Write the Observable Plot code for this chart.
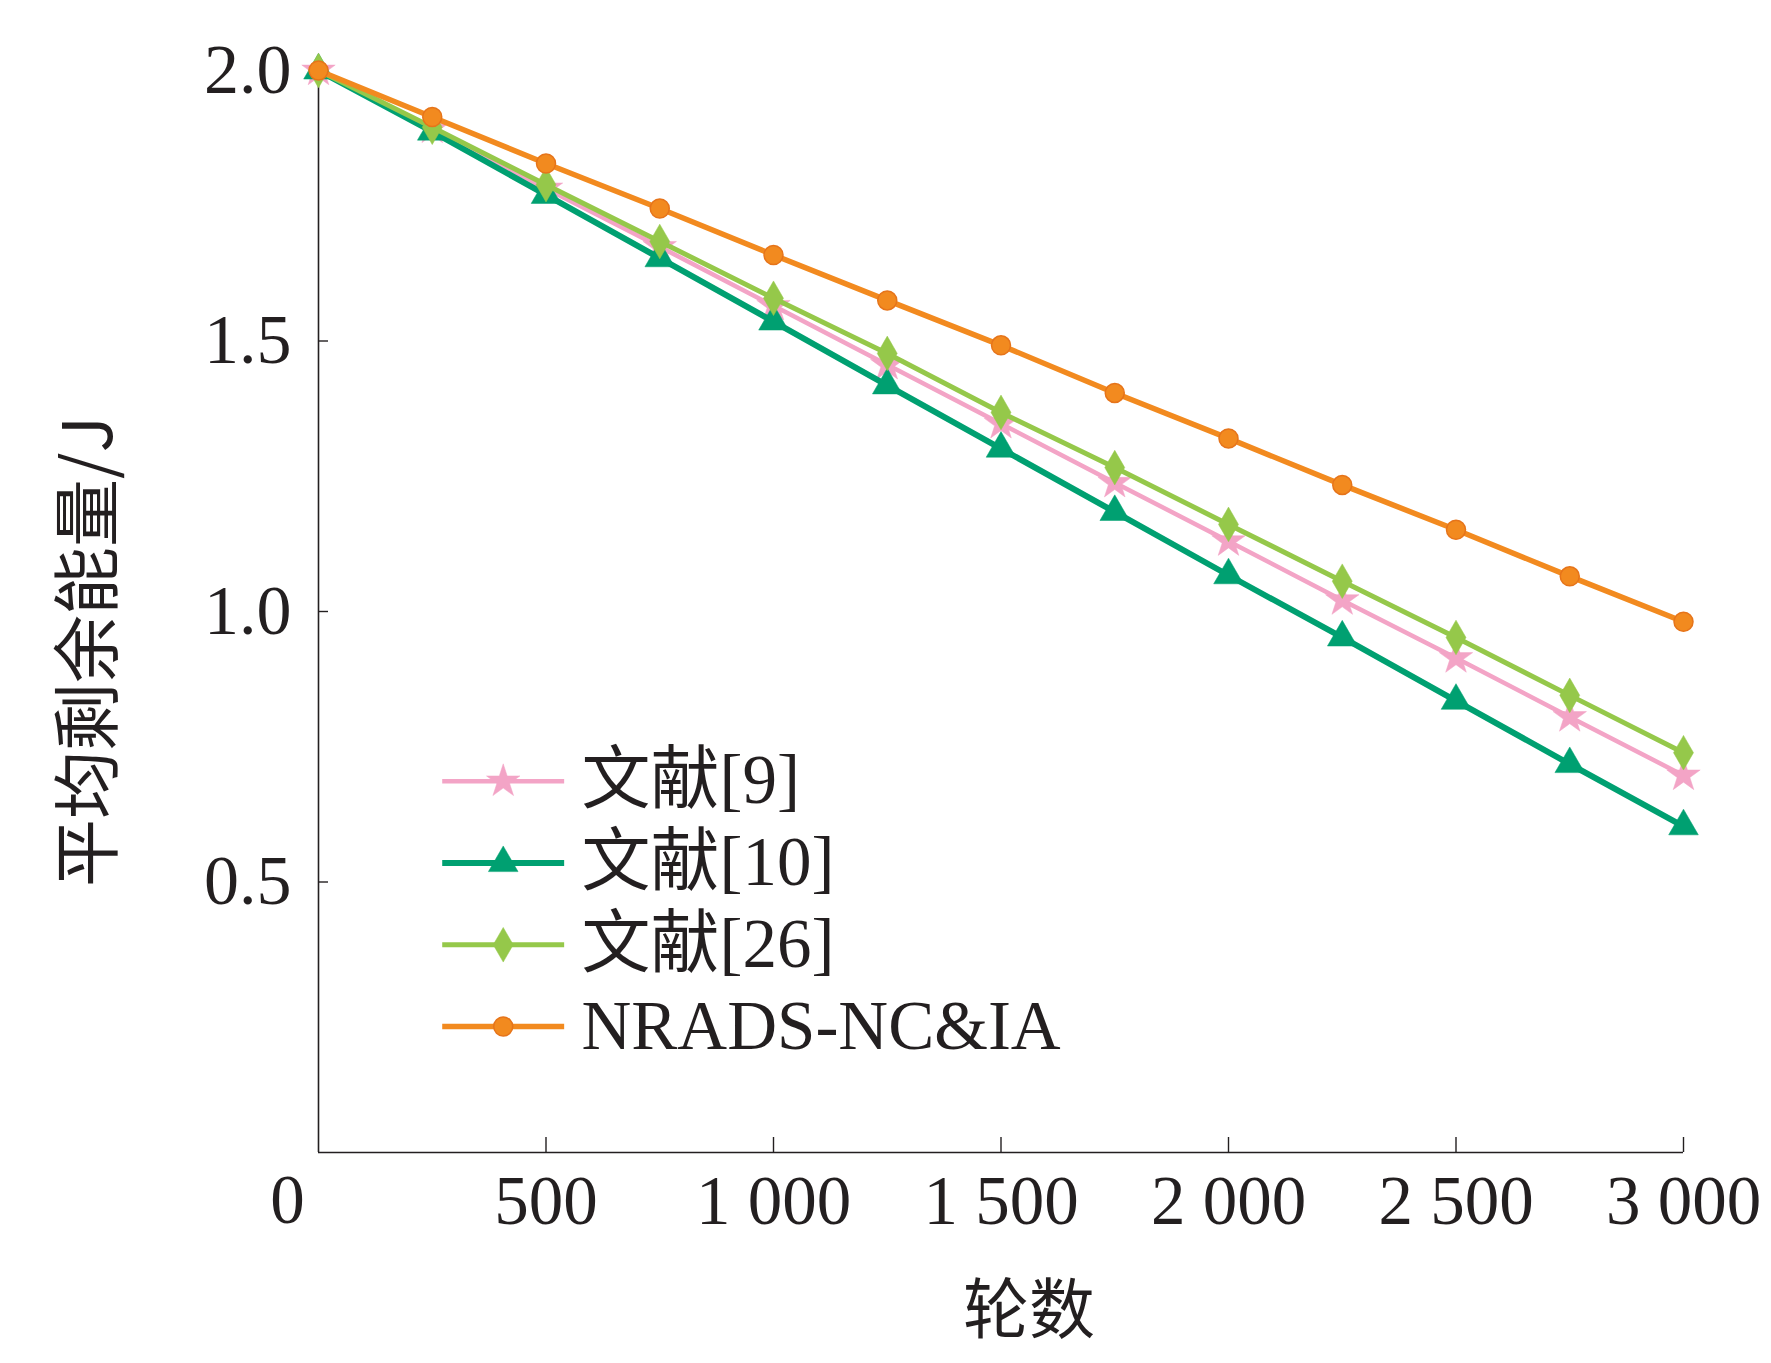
<!DOCTYPE html>
<html><head><meta charset="utf-8">
<script src="https://cdn.jsdelivr.net/npm/d3@7"></script>
<script src="https://cdn.jsdelivr.net/npm/@observablehq/plot@0.6"></script>
<style>
html,body{margin:0;padding:0;background:#fff;}
#chart svg{display:block;}
</style></head><body><div id="chart"></div>
<script>
const rounds = [0,250,500,750,1000,1250,1500,1750,2000,2250,2500,2750,3000];
const ref9  = [2.000,1.893,1.782,1.674,1.565,1.456,1.347,1.238,1.130,1.021,0.914,0.805,0.697];
const ref10 = [2.000,1.887,1.770,1.653,1.536,1.418,1.301,1.184,1.067,0.952,0.835,0.718,0.603];
const ref26 = [2.000,1.895,1.789,1.684,1.579,1.477,1.368,1.266,1.161,1.056,0.952,0.845,0.739];
const nrads = [2.000,1.914,1.828,1.745,1.659,1.575,1.492,1.404,1.320,1.234,1.151,1.065,0.981];

const seriesNames = ["文献[9]","文献[10]","文献[26]","NRADS-NC&IA"];
const seriesValues = [ref9, ref10, ref26, nrads];
const seriesColors = ["#f3a4c6","#00a071","#95c84a","#f28a1f"];
const seriesSymbols = ["star","triangle","diamond","circle"];
const xTicks = [500,1000,1500,2000,2500,3000];
const yTicks = [0.5,1.0,1.5,2.0];
const xLabel = "轮数";
const yLabel = "平均剩余能量/J";

const lineWidths = [4.5,6,5,5.5];
const dotR = [10.5,11,10.5,9.5];
const ink = "#231f20";
const serif = "'Liberation Serif','Noto Sans CJK SC',serif";
const cjk = "'Noto Sans CJK SC','Liberation Serif',sans-serif";

const table = seriesNames.flatMap((name,s) => rounds.map((r,i) => ({series:s, name, x:r, y:seriesValues[s][i]})));

// legend rows (data-space placement inside the frame)
const legend = seriesNames.map((name,i) => ({i, name, y: 0.686 - i*0.151}));

const fmt = d => d3.format(",")(d).replace(/,/g," ");

const marks = [];
// axis lines
marks.push(Plot.ruleY([0], {x1:0, x2:3000, stroke:ink, strokeWidth:1.6}));
marks.push(Plot.ruleX([0], {y1:0, y2:2, stroke:ink, strokeWidth:1.6}));
// inward ticks
marks.push(Plot.ruleX(xTicks, {x:d=>d, y1:0, y2:0, insetTop:-15, stroke:ink, strokeWidth:1.4}));
marks.push(Plot.ruleY(yTicks, {y:d=>d, x1:0, x2:0, insetRight:-10, stroke:ink, strokeWidth:1.4}));
// axes labels
marks.push(Plot.axisX({ticks:xTicks, tickFormat:fmt, tickSize:0, tickPadding:22, label:null, fontSize:69, fontFamily:serif, fill:ink}));
marks.push(Plot.text([0], {x:d=>d, y:0, text:()=>"0", dy:48, dx:-31, fontSize:69, fontFamily:serif, fill:ink}));
marks.push(Plot.axisY({ticks:yTicks, tickFormat:".1f", tickSize:0, tickPadding:27, label:null, fontSize:70, fontFamily:serif, fill:ink}));
marks.push(Plot.text([xLabel], {frameAnchor:"bottom", textAnchor:"middle", lineAnchor:"middle", dx:28, dy:159, fontSize:66, fontFamily:cjk, fill:ink}));
marks.push(Plot.text([yLabel], {frameAnchor:"left", textAnchor:"middle", lineAnchor:"middle", rotate:-90, dx:-228, dy:40, fontSize:68, fontFamily:cjk, fill:ink}));

// series lines and markers
seriesNames.forEach((name,s) => {
  const data = table.filter(d => d.series === s);
  marks.push(Plot.line(data, {x:"x", y:"y", stroke:seriesColors[s], strokeWidth:lineWidths[s]}));
  marks.push(Plot.dot(data, {x:"x", y:"y", symbol:seriesSymbols[s], r:dotR[s], fill:seriesColors[s],
    stroke: s===3 ? "#e6741a" : seriesColors[s], strokeWidth: s===3 ? 1.5 : 0.5}));
});

// legend
legend.forEach(d => {
  marks.push(Plot.ruleY([d], {y:"y", x1:273, x2:541, stroke:seriesColors[d.i], strokeWidth:lineWidths[d.i]}));
  marks.push(Plot.dot([d], {x:406, y:"y", symbol:seriesSymbols[d.i], r:dotR[d.i], fill:seriesColors[d.i],
    stroke: d.i===3 ? "#e6741a" : seriesColors[d.i], strokeWidth: d.i===3 ? 1.5 : 0.5}));
});
marks.push(Plot.text(legend, {x:578, y:"y", text:"name", textAnchor:"start", fontSize:69, fontFamily:serif, fill:ink}));

const chart = Plot.plot({
  width:1771, height:1363,
  marginLeft:318, marginRight:88, marginTop:70, marginBottom:211,
  x:{domain:[0,3000]},
  y:{domain:[0,2]},
  style:{background:"#fff", color:ink, fontFamily:serif, fontSize:"66px"},
  marks
});
document.getElementById("chart").appendChild(chart);
</script>
</body></html>
